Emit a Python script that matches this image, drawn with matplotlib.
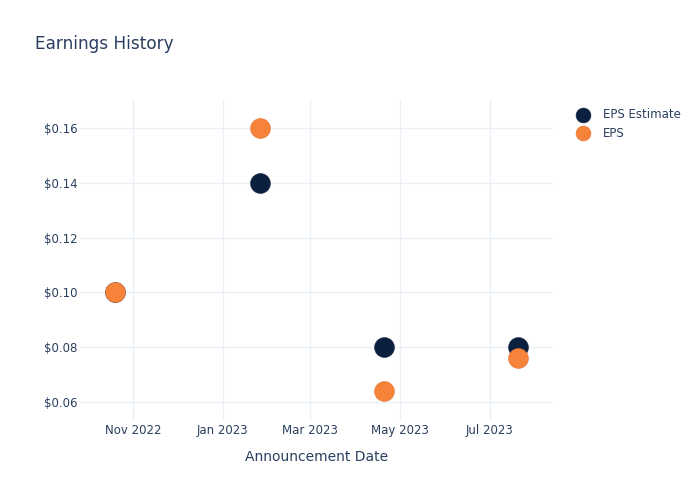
import matplotlib
matplotlib.use("Agg")
import matplotlib.pyplot as plt
import matplotlib.dates as mdates
from matplotlib.ticker import FuncFormatter
import numpy as np

dates = np.array(["2022-10-20", "2023-01-26", "2023-04-20", "2023-07-20"], dtype="datetime64[D]")
eps_estimate = [0.10, 0.14, 0.08, 0.08]
eps_actual = [0.10, 0.16, 0.064, 0.076]

text_color = "#2a3f5f"
grid_color = "#ebf0f8"
navy = "#0b1f3f"
orange = "#f7823a"

fig = plt.figure(figsize=(7, 5), dpi=100)
ax = fig.add_axes([80 / 700, 1 - 420 / 500, 473 / 700, 320 / 500])

ax.scatter(dates, eps_estimate, s=205, color=navy, zorder=3, label="EPS Estimate",
           edgecolors="#1a2a45", linewidths=0.4)
ax.scatter(dates, eps_actual, s=205, color=orange, zorder=4, label="EPS",
           edgecolors="#e0783a", linewidths=0.4)

ax.set_xlim(np.datetime64("2022-09-26"), np.datetime64("2023-08-13"))
ax.set_ylim(0.0534, 0.1702)

ax.xaxis.set_major_locator(mdates.MonthLocator(bymonth=[1, 3, 5, 7, 11]))
ax.xaxis.set_major_formatter(mdates.DateFormatter("%b %Y"))
ax.set_yticks([0.06, 0.08, 0.10, 0.12, 0.14, 0.16])
ax.yaxis.set_major_formatter(FuncFormatter(lambda v, p: f"${v:.2f}"))

ax.grid(True, color=grid_color, linewidth=1)
ax.set_axisbelow(True)
for s in ax.spines.values():
    s.set_visible(False)
ax.tick_params(axis="x", length=0, colors=text_color, labelsize=8.5, pad=3)
ax.tick_params(axis="y", length=0, colors=text_color, labelsize=8.5, pad=2)

ax.set_xlabel("Announcement Date", color=text_color, fontsize=10, labelpad=9)

fig.text(35 / 700, 1 - 44 / 500, "Earnings History", color=text_color, fontsize=12.2, va="center")

leg = ax.legend(loc="upper left", bbox_to_anchor=(1.02, 1.0), frameon=False,
                fontsize=8.5, labelcolor=text_color, handletextpad=0.7,
                markerscale=0.75, borderaxespad=0.3, labelspacing=0.45)

fig.savefig("out.png", dpi=100)
